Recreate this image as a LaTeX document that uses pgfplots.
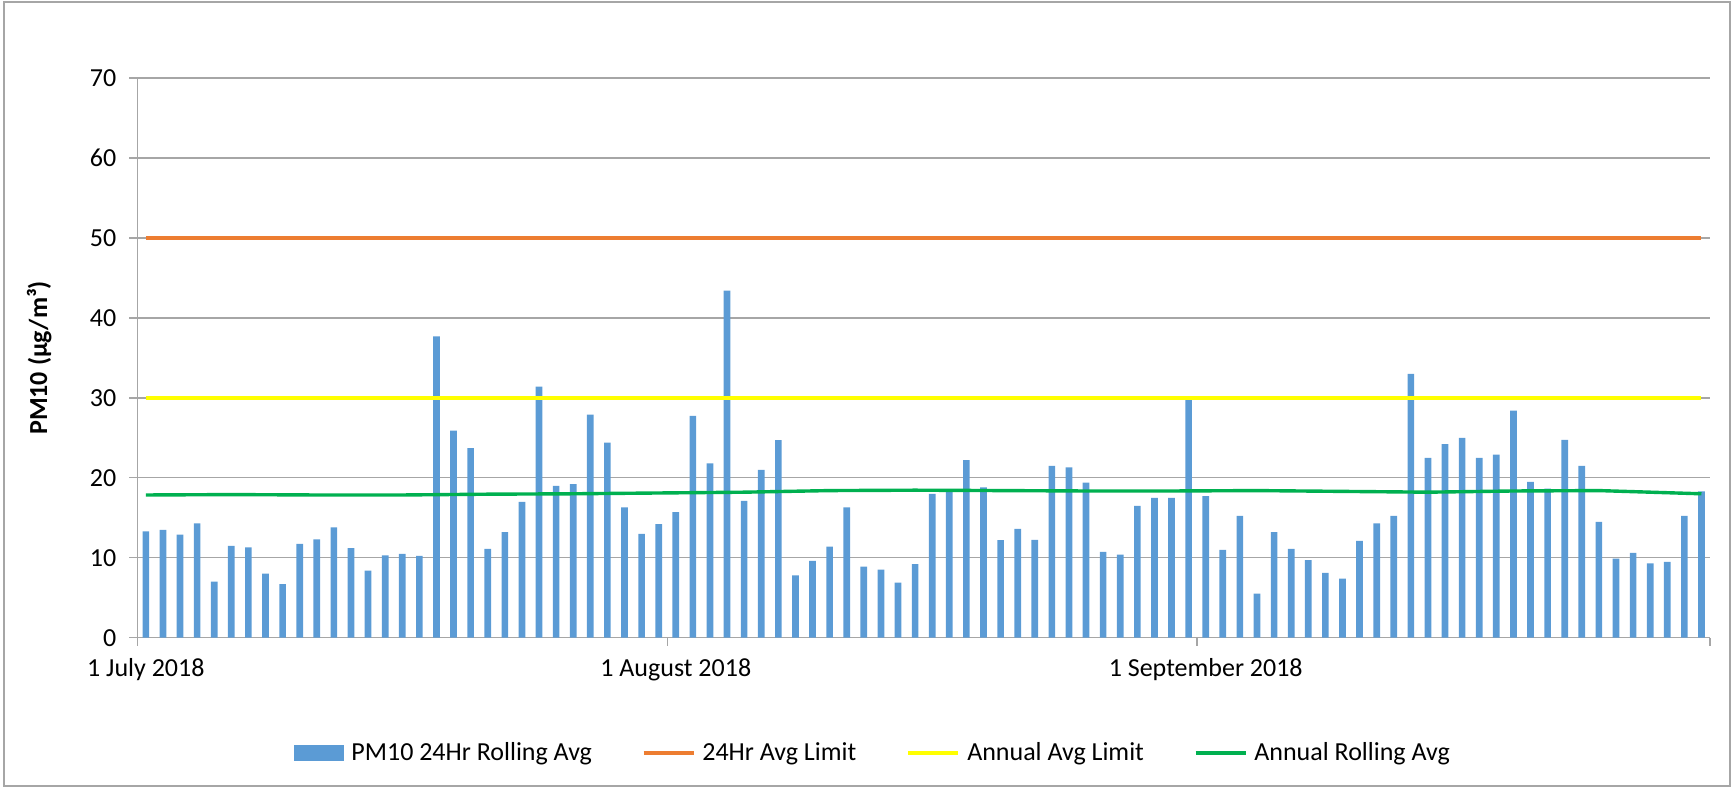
\documentclass[border=0pt]{standalone}
\usepackage{fontspec}
\setmainfont{Carlito}
\usepackage{pgfplots}
\usepackage{pgfplotstable}
\pgfplotsset{compat=1.18}

\definecolor{pmblue}{HTML}{5B9BD5}
\definecolor{limorange}{HTML}{ED7D31}
\definecolor{limyellow}{HTML}{FFFF00}
\definecolor{avggreen}{HTML}{00B050}
\definecolor{gridgray}{HTML}{A6A6A6}

% day index (1 July = 0), bar centred in the day
\pgfplotstableread{
x y
0.5 13.3
1.5 13.5
2.5 12.9
3.5 14.3
4.5 7.0
5.5 11.5
6.5 11.3
7.5 8.0
8.5 6.7
9.5 11.75
10.5 12.3
11.5 13.8
12.5 11.2
13.5 8.4
14.5 10.3
15.5 10.5
16.5 10.25
17.5 37.7
18.5 25.9
19.5 23.7
20.5 11.1
21.5 13.2
22.5 17.0
23.5 31.4
24.5 19.0
25.5 19.2
26.5 27.9
27.5 24.4
28.5 16.3
29.5 13.0
30.5 14.2
31.5 15.7
32.5 27.75
33.5 21.8
34.5 43.4
35.5 17.1
36.5 21.0
37.5 24.7
38.5 7.8
39.5 9.6
40.5 11.4
41.5 16.3
42.5 8.9
43.5 8.5
44.5 6.9
45.5 9.2
46.5 18.0
47.5 18.25
48.5 22.2
49.5 18.8
50.5 12.2
51.5 13.6
52.5 12.25
53.5 21.5
54.5 21.3
55.5 19.4
56.5 10.75
57.5 10.4
58.5 16.5
59.5 17.5
60.5 17.5
61.5 29.7
62.5 17.7
63.5 11.0
64.5 15.25
65.5 5.5
66.5 13.2
67.5 11.1
68.5 9.7
69.5 8.1
70.5 7.4
71.5 12.1
72.5 14.3
73.5 15.25
74.5 33.0
75.5 22.5
76.5 24.2
77.5 25.0
78.5 22.5
79.5 22.9
80.5 28.4
81.5 19.5
82.5 18.65
83.5 24.75
84.5 21.5
85.5 14.5
86.5 9.9
87.5 10.6
88.5 9.3
89.5 9.5
90.5 15.25
91.5 18.3
}\pmdata

\pgfplotstableread{
x y
0.5 17.85
5.5 17.9
10.5 17.85
15.5 17.85
20.5 17.95
25.5 18.0
30.5 18.1
35.5 18.2
40.5 18.4
45.5 18.45
50.5 18.4
55.5 18.35
60.5 18.35
65.5 18.4
70.5 18.3
75.5 18.2
80.5 18.35
85.5 18.4
88.5 18.2
91.5 18.0
}\annualavg

\begin{document}
\begin{tikzpicture}
\useasboundingbox (-68.65pt,-75.15pt) rectangle (797.35pt,318.85pt);
\draw[gridgray, line width=0.8pt] (-66.5pt,-74pt) rectangle (796.2pt,317.7pt);
\begin{axis}[
    at={(0,0)}, anchor=south west,
    scale only axis,
    width=786.35pt, height=279.85pt,
    xmin=0, xmax=92, ymin=0, ymax=70,
    ytick={0,10,...,70},
    axis x line*=bottom, axis y line*=left,
    axis line style={gridgray, line width=0.7pt},
    ymajorgrids,
    grid style={gridgray, line width=0.7pt},
    tick align=outside,
    major tick length=4pt,
    tick style={gridgray, line width=0.7pt},
    xtick={0,31,62,92},
    xticklabels={},
    extra x ticks={0.5,31.5,62.5},
    extra x tick labels={1 July 2018, 1 August 2018, 1 September 2018},
    extra x tick style={major tick length=0pt},
    /pgf/number format/assume math mode=true,
    tick label style={font=\fontsize{13}{15}\selectfont},
    xticklabel style={yshift=-7pt},
    yticklabel style={xshift=-3pt},
    ylabel={\textbf{PM10 (µg/m³)}},
    ylabel style={font=\fontsize{13}{15}\selectfont, at={(axis description cs:-0.0623,0.5)}, anchor=center},
    legend columns=4,
    legend style={
        at={(axis description cs:0,0)}, anchor=west,
        xshift=78.35pt, yshift=-57.65pt,
        draw=none, inner sep=0pt,
        font=\fontsize{13}{15}\selectfont,
        nodes={inner sep=0pt},
        /tikz/every odd column/.append style={column sep=3.5pt},
        /tikz/every even column/.append style={column sep=25pt},
    },
    legend image code/.code={\draw[#1] (0pt,0pt) -- (25pt,0pt);},
]
\addplot[ybar, bar width=0.39, fill=pmblue, draw=none,
    legend image code/.code={\fill[pmblue] (0pt,-3.9pt) rectangle (25pt,3.9pt);}]
    table[x=x, y=y] {\pmdata};
\addlegendentry{PM10 24Hr Rolling Avg}
\addplot[limorange, line width=1.7pt] coordinates {(0.5,50) (91.5,50)};
\addlegendentry{24Hr Avg Limit}
\addplot[limyellow, line width=2pt] coordinates {(0.5,30) (91.5,30)};
\addlegendentry{Annual Avg Limit}
\addplot[avggreen, line width=1.7pt] table[x=x, y=y] {\annualavg};
\addlegendentry{Annual Rolling Avg}
\end{axis}
\end{tikzpicture}
\end{document}
